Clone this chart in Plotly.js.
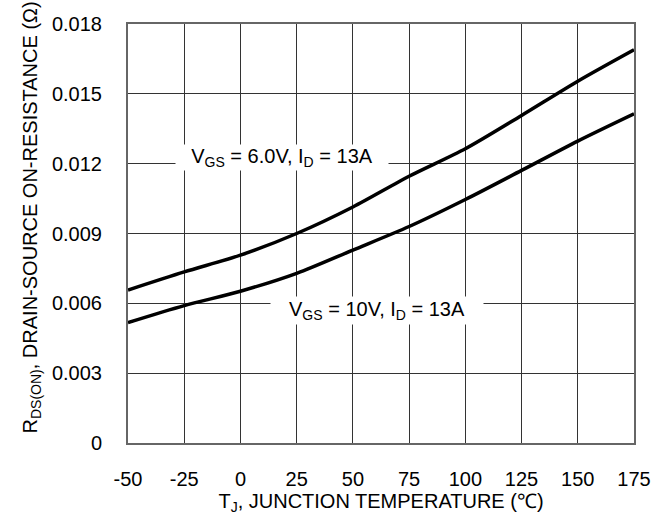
<!DOCTYPE html>
<html>
<head>
<meta charset="utf-8">
<script src="https://cdn.plot.ly/plotly-3.0.1.min.js"></script>
<style>
html,body{margin:0;padding:0;background:#fff;}
#chart{width:653px;height:523px;}
</style>
</head>
<body>
<div id="chart"></div>
<script>
const temps = [-50, -25, 0, 25, 50, 75, 100, 125, 150, 175];
const rdsVgs6 = [0.00657, 0.00735, 0.00807, 0.00900, 0.01014, 0.01146, 0.01264, 0.01407, 0.01554, 0.01689];
const rdsVgs10 = [0.00517, 0.00590, 0.00652, 0.00729, 0.00829, 0.00930, 0.01046, 0.01171, 0.01297, 0.01414];
const xTicks = [-50, -25, 0, 25, 50, 75, 100, 125, 150, 175];
const yTicks = [0, 0.003, 0.006, 0.009, 0.012, 0.015, 0.018];
const yTickText = ['0', '0.003', '0.006', '0.009', '0.012', '0.015', '0.018'];
const label6 = 'V<sub>GS</sub> = 6.0V, I<sub>D</sub> = 13A';
const label10 = 'V<sub>GS</sub> = 10V, I<sub>D</sub> = 13A';

const font = {family: 'Liberation Sans, Arial, sans-serif', size: 20, color: '#000'};

const traces = [
  {x: temps, y: rdsVgs6, mode: 'lines', line: {color: '#000', width: 3.5, shape: 'spline', smoothing: 0.8}, showlegend: false, hoverinfo: 'skip'},
  {x: temps, y: rdsVgs10, mode: 'lines', line: {color: '#000', width: 3.5, shape: 'spline', smoothing: 0.8}, showlegend: false, hoverinfo: 'skip'}
];

const layout = {
  width: 653, height: 523,
  margin: {l: 128, r: 19, t: 24, b: 80},
  paper_bgcolor: '#fff', plot_bgcolor: '#fff',
  font: font,
  showlegend: false,
  xaxis: {
    range: [-50, 175], tickvals: xTicks, ticktext: xTicks.map(String),
    showgrid: true, gridcolor: '#333', gridwidth: 1,
    zeroline: false, showline: true, linecolor: '#666', linewidth: 2, mirror: true,
    ticks: '', ticklabelstandoff: 17, automargin: false,
    tickfont: font,
    title: {text: 'T<sub>J</sub>, JUNCTION TEMPERATURE (℃)', font: font, standoff: 2}
  },
  yaxis: {
    range: [0, 0.018], tickvals: yTicks, ticktext: yTickText,
    showgrid: true, gridcolor: '#333', gridwidth: 1,
    zeroline: false, showline: true, linecolor: '#666', linewidth: 2, mirror: true,
    ticks: '', ticklabelstandoff: 20, automargin: false,
    tickfont: font
  },
  annotations: [
    {x: 18.3, y: 0.01225, xref: 'x', yref: 'y', text: label6, showarrow: false,
     bgcolor: '#fff', width: 212, height: 25, borderpad: 0, font: font},
    {x: 60.5, y: 0.0057, xref: 'x', yref: 'y', text: label10, showarrow: false,
     bgcolor: '#fff', width: 212, height: 27, borderpad: 0, font: font},
    {x: 0, y: 0, xref: 'paper', yref: 'paper', text: 'R<sub>DS(ON)</sub>, DRAIN-SOURCE ON-RESISTANCE (Ω)',
     showarrow: false, textangle: -90, font: font}
  ]
};
// place the y-title annotation (pixel centre 17, 218) in paper coordinates
(function(){
  const a = layout.annotations[2];
  const pw = 653 - 128 - 19, ph = 523 - 24 - 80;
  a.x = (17 - 128) / pw;
  a.y = (523 - 80 - 218) / ph;
})();

Plotly.newPlot('chart', traces, layout, {displayModeBar: false});
</script>
</body>
</html>
